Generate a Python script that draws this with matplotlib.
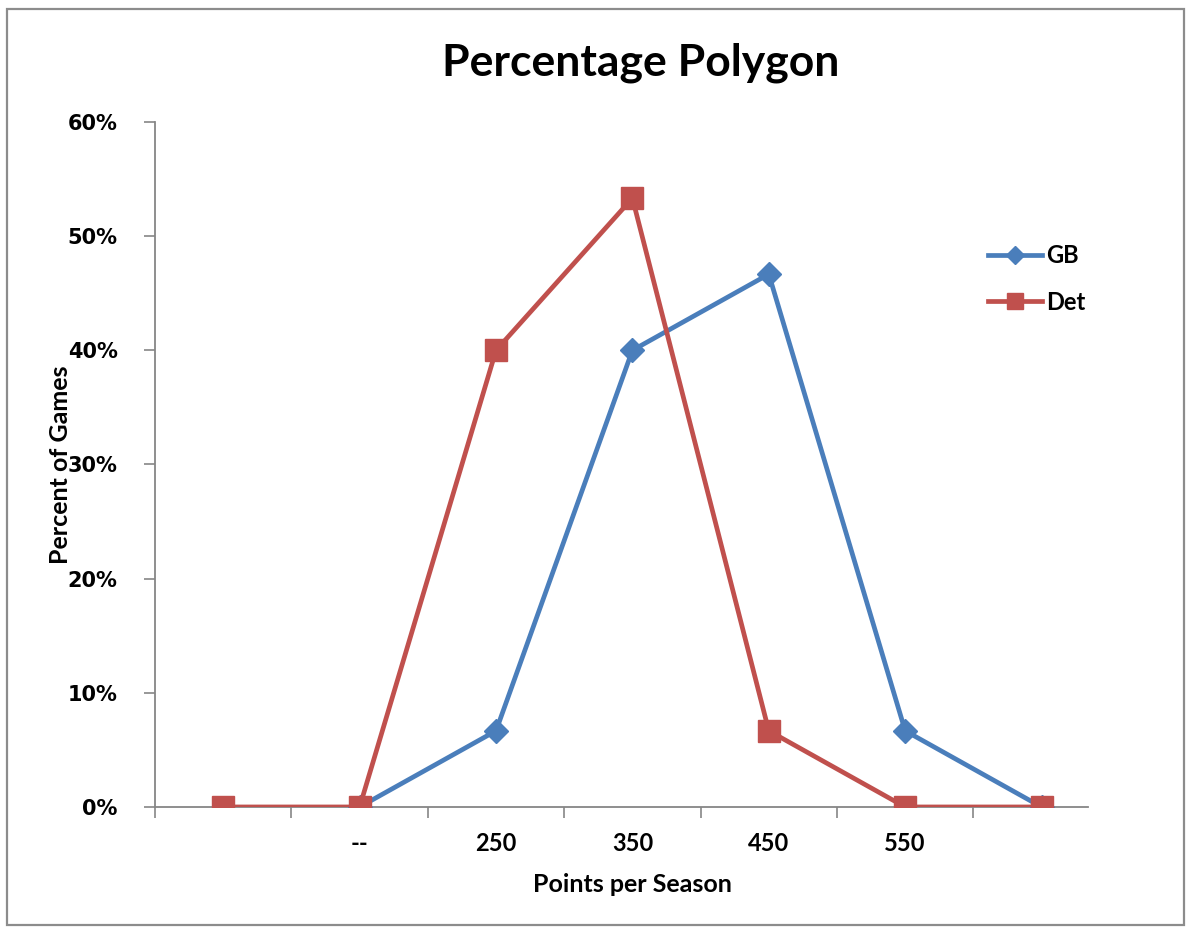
import matplotlib.pyplot as plt
import numpy as np
from matplotlib.patches import Rectangle
from matplotlib.ticker import FixedLocator, FuncFormatter

categories = ["", "--", "250", "350", "450", "550", ""]
gb = [np.nan, 0.0, 6.67, 40.0, 46.67, 6.67, 0.0]
det = [0.0, 0.0, 40.0, 53.33, 6.67, 0.0, 0.0]

blue = "#4A7EBB"
red = "#C0504D"
grey = "#868686"

fig = plt.figure(figsize=(11.89, 9.30), dpi=100)
fig.patches.append(Rectangle((0.006, 0.005), 0.99, 0.985, transform=fig.transFigure,
                             fill=False, edgecolor="#8c8c8c", linewidth=1.6))
ax = fig.add_axes([0.1304, 0.1323, 0.7846, 0.7365])

x = np.arange(len(categories))
ax.plot(x, gb, color=blue, lw=3.4, marker="D", markersize=12, label="GB", zorder=3)
ax.plot(x, det, color=red, lw=3.4, marker="s", markersize=15.5, label="Det", zorder=3)

ax.set_xlim(-0.5, 6.34)
ax.set_ylim(0, 60)
ax.set_yticks(np.arange(0, 61, 10))
ax.yaxis.set_major_formatter(FuncFormatter(lambda v, p: f"{v:.0f}%"))
ax.set_xticks(x)
ax.set_xticklabels(categories, fontfamily="Lato", fontweight="bold", fontsize=17)
ax.xaxis.set_minor_locator(FixedLocator(np.arange(-0.5, 6.0, 1.0)))
ax.tick_params(axis="x", which="major", length=0, pad=18)
ax.tick_params(axis="x", which="minor", length=8, width=1.2, color=grey, direction="out")
ax.tick_params(axis="y", length=8, width=1.2, color=grey, direction="out", pad=19)

for lab in ax.get_yticklabels():
    lab.set_fontfamily("DejaVu Sans")
    lab.set_fontweight("bold")
    lab.set_fontsize(15)

for s in ["top", "right"]:
    ax.spines[s].set_visible(False)
for s in ["left", "bottom"]:
    ax.spines[s].set_color(grey)
    ax.spines[s].set_linewidth(1.3)

fig.text(0.539, 0.933, "Percentage Polygon", ha="center", va="center",
         fontfamily="Lato", fontweight="bold", fontsize=32)
fig.text(0.532, 0.049, "Points per Season", ha="center", va="center",
         fontfamily="Lato", fontweight="bold", fontsize=18)
fig.text(0.051, 0.5, "Percent of Games", ha="center", va="center", rotation=90,
         fontfamily="Lato", fontweight="bold", fontsize=18)

leg = ax.legend(loc="upper left", bbox_to_anchor=(0.87, 0.853), frameon=False,
                handlelength=2.3, handletextpad=0.15, labelspacing=1.0, markerscale=0.75,
                prop={"family": "Lato", "weight": "bold", "size": 17})
for t in leg.get_texts():
    t.set_fontweight("bold")

fig.savefig("out.png", dpi=100)
